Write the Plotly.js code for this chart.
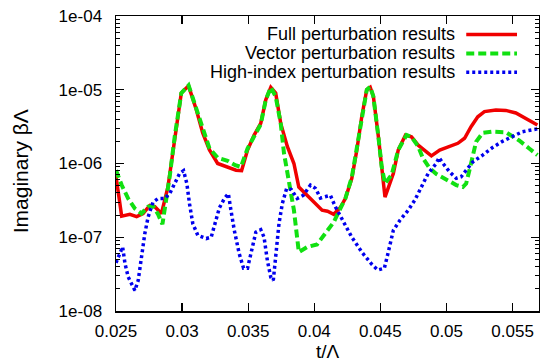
<!DOCTYPE html>
<html>
<head>
<meta charset="utf-8">
<script src="https://cdn.plot.ly/plotly-3.0.1.min.js"></script>
<style>html,body{margin:0;padding:0;background:#fff;}#chart{width:540px;height:364px;}</style>
</head>
<body>
<div id="chart"></div>
<script>
// Full perturbation results
const tFull = [0.025,0.02543,0.02605,0.02656,0.02705,0.02756,0.02793,0.02844,0.02893,0.02944,0.02994,0.03049,0.03107,0.03156,0.03207,0.03269,0.03344,0.03408,0.0345,0.03495,0.03545,0.03595,0.03633,0.03671,0.03708,0.03746,0.03796,0.03846,0.03883,0.03971,0.04059,0.0410,0.04147,0.04197,0.04235,0.04284,0.04322,0.04359,0.04397,0.04423,0.04447,0.04485,0.0451,0.04535,0.04598,0.04635,0.0469,0.04735,0.04786,0.04861,0.04886,0.04949,0.05024,0.05086,0.05137,0.05186,0.05237,0.05287,0.05374,0.05449,0.05525,0.056,0.05688];
const vFull = [6.7e-7,1.93e-7,2.05e-7,1.9e-7,2.1e-7,2.7e-7,2.6e-7,2.1e-7,4.8e-7,2.3e-6,9e-6,1.13e-5,5.4e-6,2.6e-6,1.53e-6,1.0e-6,8.85e-7,8.1e-7,8e-7,1.52e-6,2.43e-6,3.5e-6,7.3e-6,1.08e-5,9e-6,3.5e-6,1.7e-6,1e-6,4.8e-7,3.35e-7,2.33e-7,2.25e-7,2.05e-7,2.53e-7,3.35e-7,6.3e-7,1.52e-6,4.3e-6,1e-5,1.08e-5,8.1e-6,2.3e-6,9e-7,3.5e-7,7.3e-7,1.52e-6,2.43e-6,2.3e-6,1.77e-6,1.37e-6,1.27e-6,1.52e-6,1.7e-6,1.88e-6,2.2e-6,3.16e-6,4.3e-6,5.05e-6,5.3e-6,5.25e-6,4.85e-6,4.1e-6,3.33e-6];

// Vector perturbation results
const tVector = [0.025,0.02543,0.02592,0.02643,0.02693,0.02743,0.0278,0.02818,0.02851,0.02881,0.02906,0.02944,0.02994,0.03049,0.03107,0.03156,0.03207,0.03269,0.03344,0.03402,0.03445,0.03495,0.03558,0.03595,0.03633,0.03671,0.03708,0.03746,0.03771,0.03808,0.03846,0.03883,0.03946,0.04021,0.04071,0.0411,0.04147,0.04184,0.04235,0.04284,0.04322,0.04359,0.04397,0.04423,0.04447,0.04485,0.0451,0.04535,0.04585,0.04635,0.04698,0.04735,0.04786,0.04823,0.04874,0.04924,0.04999,0.05074,0.05124,0.05149,0.05186,0.05224,0.05274,0.05349,0.0545,0.0555,0.05626,0.05688];
const vVector = [8.1e-7,5.1e-7,3.35e-7,2.45e-7,2.1e-7,2.6e-7,2.65e-7,2.05e-7,1.5e-7,3.2e-7,6.6e-7,2.3e-6,9e-6,1.15e-5,5.6e-6,2.8e-6,1.6e-6,1.2e-6,1.09e-6,9.5e-7,9e-7,1.6e-6,2.6e-6,3.4e-6,7.3e-6,1.08e-5,8.1e-6,3.5e-6,1.37e-6,5.9e-7,2.33e-7,6.3e-8,7.35e-8,8e-8,1.06e-7,1.3e-7,1.6e-7,2.2e-7,3.35e-7,6.5e-7,1.55e-6,4.3e-6,1e-5,1.1e-5,8.1e-6,2.3e-6,9e-7,5.35e-7,7e-7,1.52e-6,2.43e-6,2.3e-6,1.7e-6,1.17e-6,8.6e-7,7.2e-7,6.1e-7,5.1e-7,4.8e-7,5.35e-7,1e-6,1.97e-6,2.6e-6,2.7e-6,2.65e-6,2.05e-6,1.6e-6,1.3e-6];

// High-index perturbation results
const tHigh = [0.025,0.02517,0.0255,0.02568,0.02592,0.02643,0.02668,0.02693,0.02718,0.02743,0.0278,0.02818,0.02868,0.02906,0.02944,0.02981,0.03011,0.03036,0.03056,0.03081,0.03119,0.03182,0.0322,0.03257,0.03282,0.0332,0.0335,0.0337,0.03395,0.03432,0.03465,0.03495,0.03525,0.03558,0.03595,0.0362,0.03645,0.03671,0.0369,0.03708,0.03733,0.03758,0.03791,0.03826,0.03871,0.03916,0.03971,0.04009,0.04047,0.04071,0.04122,0.04159,0.04209,0.04284,0.04359,0.04435,0.0448,0.0453,0.0456,0.04598,0.04648,0.04711,0.04761,0.04811,0.04861,0.04923,0.04944,0.04974,0.05024,0.05074,0.05111,0.05149,0.05199,0.05274,0.05349,0.05424,0.055,0.05575,0.05688];
const vHigh = [4.5e-8,5.4e-8,7.4e-8,4.4e-8,2.9e-8,1.9e-8,2.6e-8,5.4e-8,1.12e-7,1.88e-7,3.0e-7,3.35e-7,3.35e-7,3.9e-7,5.35e-7,7.3e-7,8e-7,5.35e-7,2.85e-7,1.53e-7,1.06e-7,9.6e-8,1e-7,1.7e-7,2.5e-7,3.35e-7,3.9e-7,2.3e-7,1.24e-7,6e-8,3.8e-8,3.8e-8,6.6e-8,1.17e-7,1.27e-7,1e-7,4.85e-8,2.87e-8,2.6e-8,5.4e-8,1.53e-7,2.85e-7,4.6e-7,4.45e-7,3.35e-7,3.7e-7,5.1e-7,4.6e-7,3.4e-7,3.5e-7,3.7e-7,2.6e-7,1.8e-7,1e-7,6.3e-8,4.3e-8,3.6e-8,3.8e-8,6.3e-8,1.24e-7,1.7e-7,2.33e-7,3.2e-7,4.8e-7,7.3e-7,1e-6,1.2e-6,1e-6,7.7e-7,6.3e-7,6.6e-7,8.1e-7,1.05e-6,1.3e-6,1.65e-6,2e-6,2.35e-6,2.7e-6,2.95e-6];

const seriesNames = ["Full perturbation results","Vector perturbation results","High-index perturbation results"];
const xTickVals = [0.025,0.03,0.035,0.04,0.045,0.05,0.055];
const xTickText = ["0.025","0.03","0.035","0.04","0.045","0.05","0.055"];
const yTickVals = [1e-8,1e-7,1e-6,1e-5,1e-4];
const yTickText = ["1e-08","1e-07","1e-06","1e-05","1e-04"];

const colors = ["#f00000","#11e011","#0000ee"];
const dashes = ["solid","8px,4px","3px,3px"];
const widths = [3.5,4,3.5];

const FONT = "Liberation Sans, Arial, Helvetica, sans-serif";

const traces = [
  {x:tFull,y:vFull,name:seriesNames[0],mode:"lines",line:{color:colors[0],width:widths[0],dash:dashes[0]}},
  {x:tVector,y:vVector,name:seriesNames[1],mode:"lines",line:{color:colors[1],width:widths[1],dash:dashes[1]}},
  {x:tHigh,y:vHigh,name:seriesNames[2],mode:"lines",line:{color:colors[2],width:widths[2],dash:dashes[2]}}
];

const minorVals = [];
for (let e=-8; e<-4; e++) for (let m=2; m<10; m++) minorVals.push(m*Math.pow(10,e));

// legend drawn gnuplot-style: text right-aligned, sample on the right
const legRowsY = [0.9376,0.8732,0.809];
const shapes = [];
const annotations = [];
for (let i=0;i<3;i++){
  shapes.push({type:"line",xref:"paper",yref:"paper",x0:0.828,x1:0.948,y0:legRowsY[i],y1:legRowsY[i],
    line:{color:colors[i],width:widths[i],dash:dashes[i]}});
  annotations.push({xref:"paper",yref:"paper",x:0.806,y:legRowsY[i],xanchor:"right",yanchor:"middle",
    text:seriesNames[i],showarrow:false,font:{family:FONT,size:18,color:"#000"}});
}
annotations.push({xref:"paper",yref:"paper",x:-0.226,y:0.475,xanchor:"center",yanchor:"middle",textangle:-90,
  text:"Imaginary βΛ",showarrow:false,font:{family:FONT,size:21,color:"#000"}});
annotations.push({xref:"paper",yref:"paper",x:0.5,y:-0.136,xanchor:"center",yanchor:"middle",
  text:"t/Λ",showarrow:false,font:{family:FONT,size:19,color:"#000"}});

const layout = {
  width:540,height:364,
  margin:{l:116,r:1,t:16,b:53,pad:0},
  paper_bgcolor:"#fff",plot_bgcolor:"#fff",
  showlegend:false,
  font:{family:FONT,size:17,color:"#000"},
  xaxis:{range:[0.025,0.057],tickmode:"array",tickvals:xTickVals,ticktext:xTickText,
    showline:true,linecolor:"#000",linewidth:1.5,mirror:"ticks",ticks:"inside",ticklen:8,tickwidth:1.3,tickcolor:"#000",
    showgrid:false,zeroline:false,tickfont:{family:FONT,size:17},ticklabelstandoff:4},
  yaxis:{type:"log",range:[-8,-4],tickmode:"array",tickvals:yTickVals,ticktext:yTickText,
    showline:true,linecolor:"#000",linewidth:1.5,mirror:"ticks",ticks:"inside",ticklen:8,tickwidth:1.3,tickcolor:"#000",
    minor:{tickmode:"array",tickvals:minorVals,ticks:"inside",ticklen:4,tickwidth:1,tickcolor:"#000",showgrid:false},
    showgrid:false,zeroline:false,tickfont:{family:FONT,size:17},ticklabelstandoff:9},
  shapes:shapes,
  annotations:annotations
};

Plotly.newPlot("chart",traces,layout,{staticPlot:true,displayModeBar:false});
</script>
</body>
</html>
